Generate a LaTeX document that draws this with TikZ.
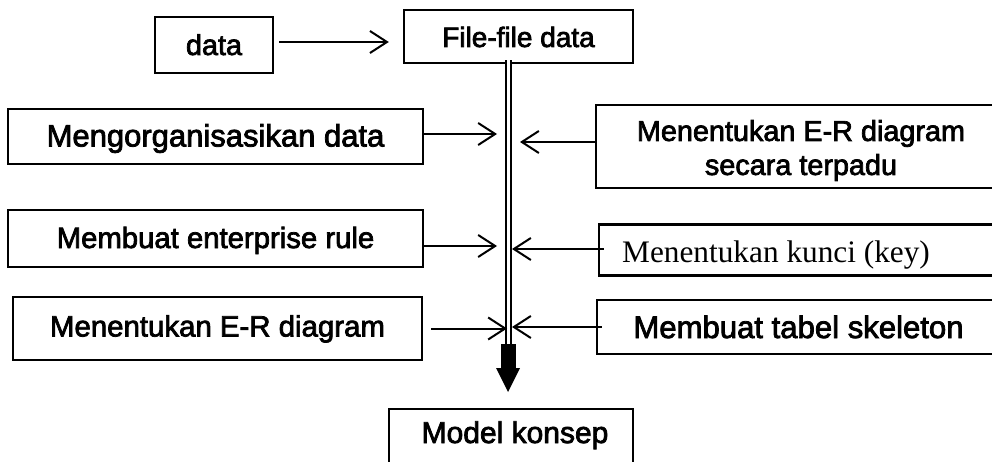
\documentclass[tikz,border=0pt]{standalone}
\usepackage{fontspec}
\setmainfont{Liberation Sans}[FakeBold=2.5]
\newfontfamily\timesfont{Liberation Serif}
\usetikzlibrary{arrows.meta}
\tikzset{
  box/.style={draw, line width=2.4pt, inner sep=0pt},
  bl/.style={text height=#1, text depth=4pt},
  link/.style={line width=2pt, -{Straight Barb[length=17pt,width=22pt,line width=2pt]}},
  fs/.style={font=\fontsize{#1}{34}\selectfont}
}
\begin{document}
\begin{tikzpicture}[x=1pt,y=-1pt]
\useasboundingbox (0,0) rectangle (992,462);
\clip (0,0) rectangle (992,462);
\fill[white] (0,0) rectangle (992,462);

% boxes
\node[box, bl=24pt, fs=28.8, minimum width=118pt, minimum height=56pt] (data) at (214,45) {data};
\node[box, bl=25pt, fs=28, minimum width=229pt, minimum height=53pt] (file) at (518.5,36.5) {File-file data};
\node[box, bl=24pt, fs=31, minimum width=415pt, minimum height=55pt] (l1) at (215.5,136.5) {Mengorganisasikan data};
\node[box, bl=23pt, fs=29.3, minimum width=415pt, minimum height=57pt] (l2) at (215.5,238.5) {Membuat enterprise rule};
\node[box, bl=20pt, fs=29.4, minimum width=409pt, minimum height=63pt] (l3) at (217.5,328.5) {Menentukan E-R diagram};
\node[box, minimum width=404pt, minimum height=83pt] (r1) at (798,146.5) {};
\node[fs=28.8, align=center, inner sep=0pt] (r1t) at (801,150.5) {Menentukan E-R diagram\\secara terpadu};
\node[box, minimum width=401pt, minimum height=51pt] (r2) at (799.5,250) {};
\node[font=\timesfont\fontsize{31.3}{35}\selectfont, anchor=base west, inner sep=0pt] (r2t) at (622,262) {Menentukan kunci (key)};
\node[box, bl=26pt, fs=31.1, minimum width=403pt, minimum height=54pt] (r3) at (798.5,327) {Membuat tabel skeleton};
\node[box, text height=22pt, text depth=10pt, fs=30, minimum width=244pt, minimum height=56pt] (model) at (511,437) {\hspace*{8pt}Model konsep};

% data -> file
\draw[link, shorten <=5pt, shorten >=14pt] ([yshift=3pt]data.east) -- ([yshift=3pt]data.east -| file.west);

% trunk
\coordinate (ttop) at ([xshift=-10.5pt]file.south);
\coordinate (tbot) at (ttop |- 0,345);
\draw[line width=2pt, double, double distance=3pt] ([yshift=4pt]ttop) -- (tbot);
\fill (500.5,344) rectangle (515.5,369);
\fill (496,368) -- (520,368) -- (508,392) -- cycle;

% left arrows
\draw[link, shorten >=11pt] ([yshift=2.5pt]l1.east) -- ([yshift=2.5pt]l1.east -| ttop);
\draw[link, shorten >=11pt] ([yshift=-7.5pt]l2.east) -- ([yshift=-7.5pt]l2.east -| ttop);
\draw[link, shorten <=8pt, shorten >=1pt] (l3.east) -- (l3.east -| ttop);

% right arrows
\draw[link, shorten >=12pt] ([yshift=4.5pt]r1.west) -- ([yshift=4.5pt]r1.west -| ttop);
\draw[link, shorten <=-6pt, shorten >=4pt] ([yshift=1pt]r2.west) -- ([yshift=1pt]r2.west -| ttop);
\draw[link, shorten <=-6pt, shorten >=4pt] (r3.west) -- (r3.west -| ttop);
\end{tikzpicture}
\end{document}
